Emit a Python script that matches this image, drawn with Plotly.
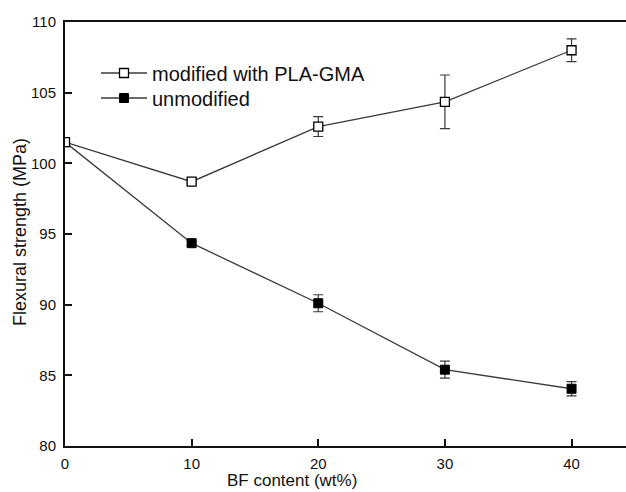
import plotly.graph_objects as go

bf_content = [0, 10, 20, 30, 40]
modified = [101.5, 98.7, 102.6, 104.35, 108.0]
modified_err = [0.0, 0.15, 0.7, 1.9, 0.8]
unmodified = [101.5, 94.35, 90.1, 85.4, 84.05]
unmodified_err = [0.0, 0.15, 0.6, 0.6, 0.5]

font_family = "Liberation Sans, Arial, sans-serif"
line_col = "#3a3a3a"

L, R, T, B, W, H = 65, 0, 22, 46, 626, 492
pw, ph = W - L - R, H - T - B

fig = go.Figure()
fig.add_trace(go.Scatter(
    x=bf_content, y=unmodified, name="unmodified", mode="lines+markers",
    line=dict(color=line_col, width=1.3),
    marker=dict(symbol="square", size=9, color="black", line=dict(color="black", width=1)),
    error_y=dict(type="data", array=unmodified_err, color=line_col, thickness=1.2, width=5),
    legend="legend2",
))
fig.add_trace(go.Scatter(
    x=bf_content, y=modified, name="modified with PLA-GMA", mode="lines+markers",
    line=dict(color=line_col, width=1.3),
    marker=dict(symbol="square", size=9, color="white", line=dict(color="black", width=1.3)),
    error_y=dict(type="data", array=modified_err, color=line_col, thickness=1.2, width=5),
    legend="legend",
))

def leg(row_center):
    return dict(x=(96 - L) / pw, y=(H - B - row_center) / ph, xanchor="left", yanchor="middle",
                font=dict(size=20, color="#111"), bgcolor="rgba(0,0,0,0)",
                itemwidth=46, borderwidth=0)

fig.update_layout(
    width=W, height=H,
    margin=dict(l=L, r=R, t=T, b=B),
    paper_bgcolor="white", plot_bgcolor="white",
    font=dict(family=font_family, size=15, color="#111"),
    showlegend=True,
    legend=leg(73),
    legend2=leg(98),
    xaxis=dict(range=[0, 44.3], tickvals=[0, 10, 20, 30, 40], ticks="inside",
               ticklen=7, tickwidth=2, tickcolor="#111", showline=True, linecolor="#111",
               linewidth=2, mirror=True, showgrid=False, zeroline=False,
               tickfont=dict(size=15), ticklabelstandoff=3),
    yaxis=dict(range=[80, 110], tickvals=[80, 85, 90, 95, 100, 105, 110], ticks="inside",
               ticklen=7, tickwidth=2, tickcolor="#111", showline=True, linecolor="#111",
               linewidth=2, mirror=False, showgrid=False, zeroline=False,
               tickfont=dict(size=15), ticklabelstandoff=4),
    annotations=[
        dict(text="BF content (wt%)", x=(292 - L) / pw, xref="paper",
             y=(H - B - 480) / ph, yref="paper",
             showarrow=False, font=dict(size=17), xanchor="center", yanchor="middle"),
        dict(text="Flexural strength (MPa)", x=(20 - L) / pw, xref="paper",
             y=(H - B - 232) / ph, yref="paper",
             showarrow=False, font=dict(size=18), textangle=-90, xanchor="center", yanchor="middle"),
    ],
)

fig.write_html("out.html", config={"displayModeBar": False},
               post_script="document.body.style.margin='0';document.body.style.overflow='hidden';")
